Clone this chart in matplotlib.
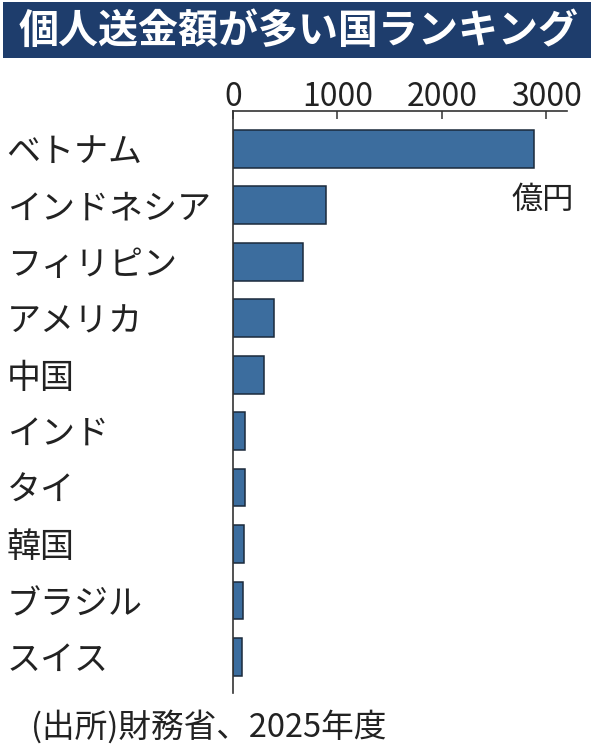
import matplotlib
matplotlib.use("Agg")
import matplotlib.pyplot as plt
from matplotlib.patches import Rectangle

plt.rcParams['font.family'] = ['Noto Sans CJK JP', 'DejaVu Sans']

countries = ["ベトナム", "インドネシア", "フィリピン", "アメリカ", "中国",
             "インド", "タイ", "韓国", "ブラジル", "スイス"]
values = [2880, 890, 670, 390, 300, 115, 115, 105, 100, 90]
xticks = [0, 1000, 2000, 3000]
title = "個人送金額が多い国ランキング"
unit = "億円"
source = "(出所)財務省、2025年度"

W, H = 596, 756
fig = plt.figure(figsize=(W / 100, H / 100), dpi=100)
fig.patch.set_facecolor("white")

# title banner
fig.patches.append(Rectangle((3 / W, 1 - 58 / H), 588 / W, 56 / H,
                             transform=fig.transFigure, facecolor="#1e3d6c",
                             edgecolor="none", zorder=0))
fig.text(299 / W, 1 - 31 / H, title, color="white", fontsize=28.8,
         fontweight="bold", ha="center", va="center")

ax = fig.add_axes([233 / W, 63 / H, 334 / W, 582 / H])
ypos = list(range(len(countries)))
ax.barh(ypos, values, height=0.67, color="#3c6d9e", edgecolor="#1b2a3b",
        linewidth=1.1, zorder=2)
ax.set_xlim(0, 3200)
ax.set_ylim(9.64, -0.67)

ax.xaxis.tick_top()
ax.set_xticks(xticks)
ax.set_xticklabels([str(t) for t in xticks], fontsize=23, color="#222222")
ax.tick_params(axis="x", direction="in", length=6, width=1.1, color="#333333",
               pad=-1.5)

ax.set_yticks(ypos)
ax.set_yticklabels(countries, fontsize=24.5, color="#222222")
ax.tick_params(axis="y", length=0, pad=163)
for lbl in ax.get_yticklabels():
    lbl.set_horizontalalignment("left")

for s in ["right", "bottom"]:
    ax.spines[s].set_visible(False)
for s in ["left", "top"]:
    ax.spines[s].set_color("#333333")
    ax.spines[s].set_linewidth(1.2)

ax.text(574 / W, 1 - 200 / H, unit, transform=fig.transFigure, fontsize=22.5,
        ha="right", va="center", color="#222222")

fig.text(31 / W, 1 - 727 / H, source, fontsize=23.5, ha="left", va="center",
         color="#222222")

fig.savefig("out.png", dpi=100)
